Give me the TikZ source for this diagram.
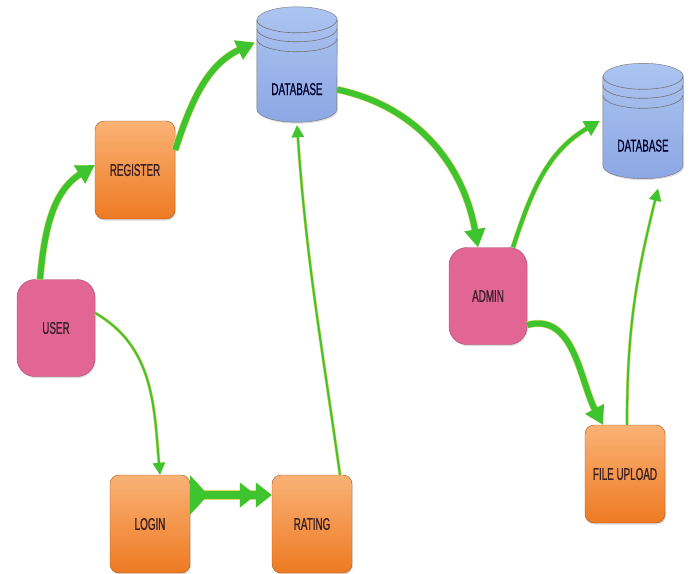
\documentclass[tikz,border=0pt]{standalone}
\usepackage{fontspec}
\newfontfamily\boxfont{Liberation Sans}[FakeStretch=0.58,FakeBold=0.8]
\usetikzlibrary{arrows.meta,shadows,backgrounds}

\definecolor{flowgreen}{RGB}{62,196,46}
\definecolor{flowhalo}{RGB}{226,214,110}
\definecolor{procTop}{RGB}{250,178,118}
\definecolor{procBot}{RGB}{238,122,34}
\definecolor{actorFill}{RGB}{226,102,148}
\definecolor{storeTop}{RGB}{172,196,240}
\definecolor{storeBot}{RGB}{140,168,228}
\definecolor{boxText}{RGB}{58,32,36}

\begin{document}
\begin{tikzpicture}[x=1pt,y=1pt,
    >={Triangle[length=12pt,width=12pt]}, % Wide arrow tips
    ]
% -------------------------------------------------
% Box and connector styles
\tikzset{
  base/.style={align=center, font=\boxfont\fontsize{17}{18}\selectfont, text=boxText},
  shade/.style={drop shadow={opacity=0.25,shadow xshift=1pt,shadow yshift=-1.5pt}},
  proc/.style={base, shade, draw=procBot!70!black, rectangle, rounded corners=9pt,
    top color=procTop, bottom color=procBot, minimum width=80pt, minimum height=98pt},
  actor/.style={base, shade, draw=actorFill!70!black, rectangle, rounded corners=18pt,
    fill=actorFill, minimum width=78pt, minimum height=97pt},
  % text box of a database; the can itself is drawn behind it
  store/.style={base, text=black!60!blue!40!black, inner sep=0pt,
    minimum width=80pt, text height=88pt, text depth=27pt},
  storebody/.style={shade, draw=black!55, top color=storeTop, bottom color=storeBot},
  ring/.style={draw=black!55, line width=0.6pt},
  % Connector line styles
  flow/.style={->, draw=flowgreen, preaction={draw=flowhalo, line width=#1+1.2pt},
    line width=#1},
  flow/.default=2pt,
  fat/.style={flow=6pt, >={Triangle[length=18pt,width=20pt]}},
  mid/.style={flow=4pt, >={Triangle[length=15pt,width=16pt]}},
}
\useasboundingbox (0,0) rectangle (693,-573);
% -------------------------------------------------
% Start by placing the nodes
\node [store] (db1) at (297,-64.5) {DATABASE};
\node [proc] (register) at (135,-170) {REGISTER};
\node [actor] (user) at (56,-328) {USER};
\node [proc] (login) at (150,-524) {LOGIN};
\node [proc] (rating) at (312,-524) {RATING};
\node [actor] (admin) at (488,-296) {ADMIN};
\node [store] (db2) at (643,-121) {DATABASE};
\node [proc] (upload) at (625,-474) {FILE UPLOAD};
% Database cans behind their labels
\begin{scope}[on background layer]
\foreach \db in {db1,db2}{
  \path [storebody] ([yshift=-13pt]\db.north west) -- ([yshift=13pt]\db.south west)
    arc[start angle=180, end angle=360, x radius=40pt, y radius=13pt]
    -- ([yshift=-13pt]\db.north east)
    arc[start angle=0, end angle=180, x radius=40pt, y radius=13pt] -- cycle;
  \foreach \dy in {13,22,32}
    \draw [ring] ([yshift=-\dy pt]\db.north west) arc[start angle=180, end angle=360, x radius=40pt, y radius=13pt];
}
\end{scope}
% -------------------------------------------------
% Connectors
\draw [fat] ([xshift=-16pt]user.north) to[out=85, in=212] ([yshift=5pt]register.west);
\draw [fat] ([yshift=20pt]register.east) to[out=72, in=205] ([shift={(-2pt,22pt)}]db1.west);
\draw [flow] ([yshift=15pt]user.east) to[out=-30, in=95] ([xshift=10pt]login.north);
\draw [flow=8pt, {Triangle[reversed,length=18pt,width=38pt]}-{Triangle[length=16pt,width=24pt]Triangle[length=16pt,width=24pt]}]
  ([yshift=29pt]login.east) -- ([yshift=29pt]rating.west);
\draw [flow] ([xshift=28pt]rating.north) to[out=98, in=-86] ([yshift=-3pt]db1.south);
\draw [fat] ([yshift=-25pt]db1.east) to[out=-12, in=100] ([xshift=-10pt]admin.north);
\draw [mid] ([xshift=25pt]admin.north) to[out=72, in=210] ([xshift=-3pt]db2.west);
\draw [fat] ([yshift=-29pt]admin.east) to[out=15, in=118] ([xshift=-22pt]upload.north);
\draw [flow] ([xshift=2pt]upload.north) to[out=90, in=-104] ([shift={(15pt,-10pt)}]db2.south);
% -------------------------------------------------
\end{tikzpicture}
\end{document}
